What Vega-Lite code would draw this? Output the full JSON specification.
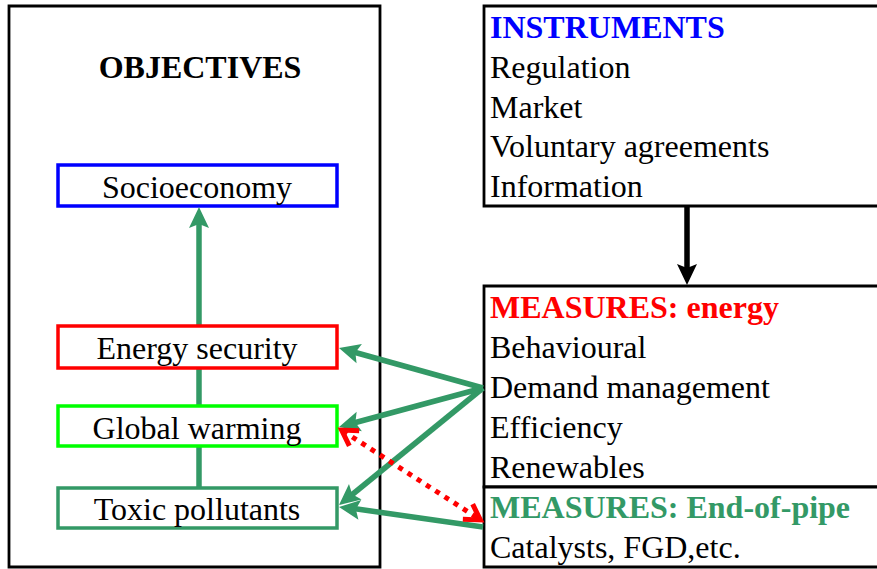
{
  "$schema": "https://vega.github.io/schema/vega-lite/v6.json",
  "width": 877,
  "height": 569,
  "autosize": {"type": "fit", "contains": "padding"},
  "padding": 0,
  "background": "white",
  "config": {"view": {"stroke": null}},
  "datasets": {
    "frames": [
      {"x": 9, "x2": 380, "y": 6, "y2": 567, "theme": "plain"},
      {"x": 484, "x2": 890, "y": 6, "y2": 206, "theme": "plain"},
      {"x": 484, "x2": 890, "y": 286, "y2": 487, "theme": "plain"},
      {"x": 484, "x2": 890, "y": 487, "y2": 567, "theme": "plain"}
    ],
    "objectives": [
      {"x": 58, "x2": 337, "y": 165, "y2": 206, "theme": "socioeconomy"},
      {"x": 58, "x2": 337, "y": 326, "y2": 368, "theme": "energy"},
      {"x": 58, "x2": 337, "y": 406, "y2": 446, "theme": "climate"},
      {"x": 58, "x2": 337, "y": 488, "y2": 528, "theme": "pollution"}
    ],
    "shafts": [
      {"x": 199, "y": 487, "x2": 199, "y2": 220, "theme": "pollution"},
      {"x": 687, "y": 206, "x2": 687, "y2": 272, "theme": "plain"},
      {"x": 483, "y": 388, "x2": 350, "y2": 351, "theme": "pollution"},
      {"x": 483, "y": 388, "x2": 350, "y2": 424, "theme": "pollution"},
      {"x": 483, "y": 388, "x2": 348, "y2": 498, "theme": "pollution"},
      {"x": 483, "y": 527, "x2": 350, "y2": 508, "theme": "pollution"},
      {"x": 343, "y": 431, "x2": 479, "y2": 519, "theme": "energy"}
    ],
    "heads": [
      {"tx": 199, "ty": 207, "angle": 0, "theme": "pollution"},
      {"tx": 687, "ty": 285, "angle": 180, "theme": "plain"},
      {"tx": 339, "ty": 348, "angle": 285.5, "theme": "pollution"},
      {"tx": 339, "ty": 427, "angle": 254.8, "theme": "pollution"},
      {"tx": 339, "ty": 505, "angle": 230.9, "theme": "pollution"},
      {"tx": 339, "ty": 507, "angle": 277.9, "theme": "pollution"},
      {"tx": 340, "ty": 429, "angle": 303.1, "theme": "energy"},
      {"tx": 482, "ty": 521, "angle": 123.1, "theme": "energy"}
    ],
    "labels": [
      {"x": 200, "y": 78, "text": "OBJECTIVES", "role": "heading", "side": "left", "theme": "plain"},
      {"x": 197, "y": 198, "text": "Socioeconomy", "role": "body", "side": "left", "theme": "plain"},
      {"x": 197, "y": 359, "text": "Energy security", "role": "body", "side": "left", "theme": "plain"},
      {"x": 197, "y": 439, "text": "Global warming", "role": "body", "side": "left", "theme": "plain"},
      {"x": 197, "y": 520, "text": "Toxic pollutants", "role": "body", "side": "left", "theme": "plain"},
      {"x": 490, "y": 38, "text": "INSTRUMENTS", "role": "heading", "side": "right", "theme": "socioeconomy"},
      {"x": 490, "y": 78, "text": "Regulation", "role": "body", "side": "right", "theme": "plain"},
      {"x": 490, "y": 118, "text": "Market", "role": "body", "side": "right", "theme": "plain"},
      {"x": 490, "y": 157, "text": "Voluntary agreements", "role": "body", "side": "right", "theme": "plain"},
      {"x": 490, "y": 197, "text": "Information", "role": "body", "side": "right", "theme": "plain"},
      {"x": 490, "y": 318, "text": "MEASURES: energy", "role": "heading", "side": "right", "theme": "energy"},
      {"x": 490, "y": 358, "text": "Behavioural", "role": "body", "side": "right", "theme": "plain"},
      {"x": 490, "y": 398, "text": "Demand management", "role": "body", "side": "right", "theme": "plain"},
      {"x": 490, "y": 438, "text": "Efficiency", "role": "body", "side": "right", "theme": "plain"},
      {"x": 490, "y": 478, "text": "Renewables", "role": "body", "side": "right", "theme": "plain"},
      {"x": 490, "y": 518, "text": "MEASURES: End-of-pipe", "role": "heading", "side": "right", "theme": "pollution"},
      {"x": 490, "y": 558, "text": "Catalysts, FGD,etc.", "role": "body", "side": "right", "theme": "plain"}
    ]
  },
  "layer": [
    {
      "data": {"name": "frames"},
      "mark": {"type": "rect", "fill": "white", "strokeWidth": 2.8, "clip": true},
      "encoding": {
        "x": {"field": "x", "type": "quantitative", "scale": {"domain": [0, 877], "nice": false, "zero": false}, "axis": null},
        "x2": {"field": "x2"},
        "y": {"field": "y", "type": "quantitative", "scale": {"domain": [0, 569], "reverse": true, "nice": false, "zero": false}, "axis": null},
        "y2": {"field": "y2"},
        "stroke": {"field": "theme", "type": "nominal", "legend": null, "scale": {"domain": ["plain", "socioeconomy", "energy", "climate", "pollution"], "range": ["#000000", "#0000ff", "#ff0000", "#00ff00", "#339966"]}}
      }
    },
    {
      "data": {"name": "shafts"},
      "transform": [{"filter": "datum.theme !== 'energy'"}],
      "mark": {"type": "rule", "strokeWidth": 5.5, "strokeCap": "butt"},
      "encoding": {
        "x": {"field": "x", "type": "quantitative", "scale": {"domain": [0, 877], "nice": false, "zero": false}, "axis": null},
        "x2": {"field": "x2"},
        "y": {"field": "y", "type": "quantitative", "scale": {"domain": [0, 569], "reverse": true, "nice": false, "zero": false}, "axis": null},
        "y2": {"field": "y2"},
        "color": {"field": "theme", "type": "nominal", "legend": null, "scale": {"domain": ["plain", "socioeconomy", "energy", "climate", "pollution"], "range": ["#000000", "#0000ff", "#ff0000", "#00ff00", "#339966"]}}
      }
    },
    {
      "data": {"name": "shafts"},
      "transform": [{"filter": "datum.theme === 'energy'"}],
      "mark": {"type": "rule", "strokeWidth": 5, "strokeDash": [5, 6], "strokeCap": "butt"},
      "encoding": {
        "x": {"field": "x", "type": "quantitative", "scale": {"domain": [0, 877], "nice": false, "zero": false}, "axis": null},
        "x2": {"field": "x2"},
        "y": {"field": "y", "type": "quantitative", "scale": {"domain": [0, 569], "reverse": true, "nice": false, "zero": false}, "axis": null},
        "y2": {"field": "y2"},
        "color": {"field": "theme", "type": "nominal", "legend": null, "scale": {"domain": ["plain", "socioeconomy", "energy", "climate", "pollution"], "range": ["#000000", "#0000ff", "#ff0000", "#00ff00", "#339966"]}}
      }
    },
    {
      "data": {"name": "objectives"},
      "mark": {"type": "rect", "fill": "white", "strokeWidth": 3.5},
      "encoding": {
        "x": {"field": "x", "type": "quantitative", "scale": {"domain": [0, 877], "nice": false, "zero": false}, "axis": null},
        "x2": {"field": "x2"},
        "y": {"field": "y", "type": "quantitative", "scale": {"domain": [0, 569], "reverse": true, "nice": false, "zero": false}, "axis": null},
        "y2": {"field": "y2"},
        "stroke": {"field": "theme", "type": "nominal", "legend": null, "scale": {"domain": ["plain", "socioeconomy", "energy", "climate", "pollution"], "range": ["#000000", "#0000ff", "#ff0000", "#00ff00", "#339966"]}}
      }
    },
    {
      "data": {"name": "heads"},
      "transform": [{"filter": "datum.theme !== 'energy'"}],
      "mark": {"type": "point", "shape": "M0,0L-10,21L0,17L10,21Z", "size": 4, "filled": true, "opacity": 1, "strokeWidth": 0},
      "encoding": {
        "x": {"field": "tx", "type": "quantitative", "scale": {"domain": [0, 877], "nice": false, "zero": false}, "axis": null},
        "y": {"field": "ty", "type": "quantitative", "scale": {"domain": [0, 569], "reverse": true, "nice": false, "zero": false}, "axis": null},
        "angle": {"field": "angle", "type": "quantitative", "scale": null},
        "color": {"field": "theme", "type": "nominal", "legend": null, "scale": {"domain": ["plain", "socioeconomy", "energy", "climate", "pollution"], "range": ["#000000", "#0000ff", "#ff0000", "#00ff00", "#339966"]}}
      }
    },
    {
      "data": {"name": "heads"},
      "transform": [{"filter": "datum.theme === 'energy'"}],
      "mark": {"type": "point", "shape": "M-9,17L0,2L9,17", "size": 4, "filled": false, "opacity": 1, "strokeWidth": 5, "strokeJoin": "miter"},
      "encoding": {
        "x": {"field": "tx", "type": "quantitative", "scale": {"domain": [0, 877], "nice": false, "zero": false}, "axis": null},
        "y": {"field": "ty", "type": "quantitative", "scale": {"domain": [0, 569], "reverse": true, "nice": false, "zero": false}, "axis": null},
        "angle": {"field": "angle", "type": "quantitative", "scale": null},
        "color": {"field": "theme", "type": "nominal", "legend": null, "scale": {"domain": ["plain", "socioeconomy", "energy", "climate", "pollution"], "range": ["#000000", "#0000ff", "#ff0000", "#00ff00", "#339966"]}}
      }
    },
    {
      "data": {"name": "labels"},
      "transform": [{"filter": "datum.side === 'left' && datum.role === 'body'"}],
      "mark": {"type": "text", "font": "Liberation Serif", "fontSize": 32, "align": "center", "baseline": "alphabetic"},
      "encoding": {
        "x": {"field": "x", "type": "quantitative", "scale": {"domain": [0, 877], "nice": false, "zero": false}, "axis": null},
        "y": {"field": "y", "type": "quantitative", "scale": {"domain": [0, 569], "reverse": true, "nice": false, "zero": false}, "axis": null},
        "text": {"field": "text"},
        "color": {"field": "theme", "type": "nominal", "legend": null, "scale": {"domain": ["plain", "socioeconomy", "energy", "climate", "pollution"], "range": ["#000000", "#0000ff", "#ff0000", "#00ff00", "#339966"]}}
      }
    },
    {
      "data": {"name": "labels"},
      "transform": [{"filter": "datum.side === 'left' && datum.role === 'heading'"}],
      "mark": {"type": "text", "font": "Liberation Serif", "fontSize": 32, "fontWeight": "bold", "align": "center", "baseline": "alphabetic"},
      "encoding": {
        "x": {"field": "x", "type": "quantitative", "scale": {"domain": [0, 877], "nice": false, "zero": false}, "axis": null},
        "y": {"field": "y", "type": "quantitative", "scale": {"domain": [0, 569], "reverse": true, "nice": false, "zero": false}, "axis": null},
        "text": {"field": "text"},
        "color": {"field": "theme", "type": "nominal", "legend": null, "scale": {"domain": ["plain", "socioeconomy", "energy", "climate", "pollution"], "range": ["#000000", "#0000ff", "#ff0000", "#00ff00", "#339966"]}}
      }
    },
    {
      "data": {"name": "labels"},
      "transform": [{"filter": "datum.side === 'right' && datum.role === 'body'"}],
      "mark": {"type": "text", "font": "Liberation Serif", "fontSize": 32, "align": "left", "baseline": "alphabetic"},
      "encoding": {
        "x": {"field": "x", "type": "quantitative", "scale": {"domain": [0, 877], "nice": false, "zero": false}, "axis": null},
        "y": {"field": "y", "type": "quantitative", "scale": {"domain": [0, 569], "reverse": true, "nice": false, "zero": false}, "axis": null},
        "text": {"field": "text"},
        "color": {"field": "theme", "type": "nominal", "legend": null, "scale": {"domain": ["plain", "socioeconomy", "energy", "climate", "pollution"], "range": ["#000000", "#0000ff", "#ff0000", "#00ff00", "#339966"]}}
      }
    },
    {
      "data": {"name": "labels"},
      "transform": [{"filter": "datum.side === 'right' && datum.role === 'heading'"}],
      "mark": {"type": "text", "font": "Liberation Serif", "fontSize": 32, "fontWeight": "bold", "align": "left", "baseline": "alphabetic"},
      "encoding": {
        "x": {"field": "x", "type": "quantitative", "scale": {"domain": [0, 877], "nice": false, "zero": false}, "axis": null},
        "y": {"field": "y", "type": "quantitative", "scale": {"domain": [0, 569], "reverse": true, "nice": false, "zero": false}, "axis": null},
        "text": {"field": "text"},
        "color": {"field": "theme", "type": "nominal", "legend": null, "scale": {"domain": ["plain", "socioeconomy", "energy", "climate", "pollution"], "range": ["#000000", "#0000ff", "#ff0000", "#00ff00", "#339966"]}}
      }
    }
  ]
}
